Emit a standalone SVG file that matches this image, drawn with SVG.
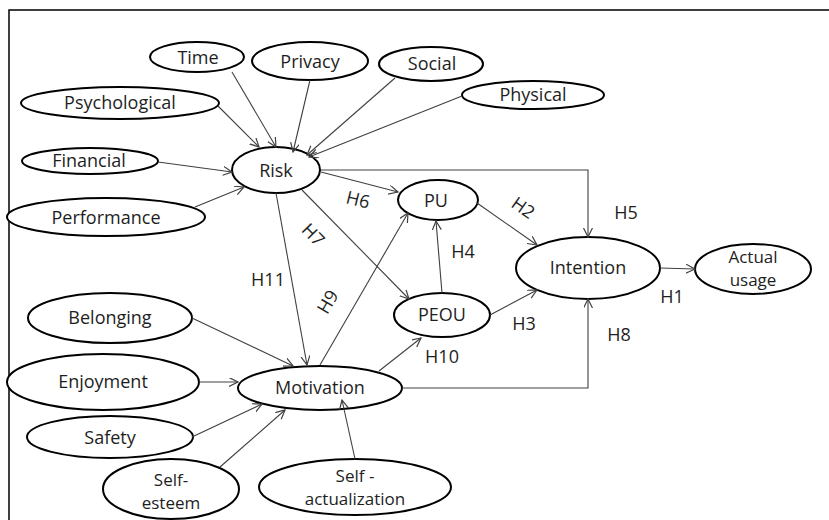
<svg xmlns="http://www.w3.org/2000/svg" width="829" height="520" viewBox="0 0 829 520">
  <style>
    .node ellipse { fill: #ffffff; stroke: #000000; stroke-width: 2; }
    .node text, .lbl { font-family: "Open Sans", "Noto Sans", sans-serif; font-size: 18px; fill: #1e1e1e; text-anchor: middle; }
    .node text.two { font-size: 17px; }
    .edge { fill: none; stroke: #404040; stroke-width: 1.1; marker-end: url(#arrow); }
    .frame { fill: none; stroke: #000000; stroke-width: 1.5; }
  </style>
  <defs>
    <marker id="arrow" markerUnits="userSpaceOnUse" markerWidth="12" markerHeight="12" refX="9" refY="4.5" orient="auto">
      <path d="M0,0 L9,4.5 L0,9" fill="none" stroke="#404040" stroke-width="1.2"/>
    </marker>
  </defs>
  <rect width="829" height="520" fill="#ffffff"/>

  <!-- page frame: top and left rules only -->
  <path class="frame" d="M9,520 V10 H829"/>

  <!-- risk dimensions -->
  <g id="time" class="node"><ellipse cx="197" cy="57" rx="47" ry="15"/><text x="198" y="64">Time</text></g>
  <g id="privacy" class="node"><ellipse cx="310" cy="61" rx="58" ry="19"/><text x="310" y="68">Privacy</text></g>
  <g id="social" class="node"><ellipse cx="431" cy="64" rx="52" ry="17"/><text x="432" y="70">Social</text></g>
  <g id="physical" class="node"><ellipse cx="533" cy="95" rx="71" ry="14"/><text x="533" y="101">Physical</text></g>
  <g id="psychological" class="node"><ellipse cx="120" cy="103" rx="99" ry="16"/><text x="120" y="109">Psychological</text></g>
  <g id="financial" class="node"><ellipse cx="90" cy="161" rx="68" ry="13"/><text x="89" y="167">Financial</text></g>
  <g id="performance" class="node"><ellipse cx="106" cy="217" rx="99" ry="19"/><text x="106" y="224">Performance</text></g>

  <!-- core constructs -->
  <g id="risk" class="node"><ellipse cx="276" cy="170" rx="44" ry="23"/><text x="276" y="177">Risk</text></g>
  <g id="pu" class="node"><ellipse cx="438" cy="200" rx="40" ry="20"/><text x="436" y="207">PU</text></g>
  <g id="peou" class="node"><ellipse cx="442" cy="315" rx="48" ry="22"/><text x="442" y="321">PEOU</text></g>
  <g id="intention" class="node"><ellipse cx="588" cy="268" rx="72" ry="31"/><text x="588" y="274">Intention</text></g>
  <g id="actual-usage" class="node"><ellipse cx="753" cy="269" rx="58" ry="25"/><text class="two" x="753" y="263">Actual<tspan x="753" dy="23">usage</tspan></text></g>
  <g id="motivation" class="node"><ellipse cx="320" cy="388" rx="82" ry="22"/><text x="320" y="394">Motivation</text></g>

  <!-- motivation drivers -->
  <g id="belonging" class="node"><ellipse cx="110" cy="318" rx="82" ry="25"/><text x="110" y="324">Belonging</text></g>
  <g id="enjoyment" class="node"><ellipse cx="103" cy="382" rx="96" ry="28"/><text x="103" y="388">Enjoyment</text></g>
  <g id="safety" class="node"><ellipse cx="110" cy="437" rx="83" ry="21"/><text x="110" y="444">Safety</text></g>
  <g id="self-esteem" class="node"><ellipse cx="171" cy="489" rx="68" ry="30"/><text class="two" x="171" y="486">Self-<tspan x="171" dy="23">esteem</tspan></text></g>
  <g id="self-actualization" class="node"><ellipse cx="355" cy="487" rx="96" ry="28"/><text class="two" x="355" y="482">Self -<tspan x="355" dy="23">actualization</tspan></text></g>

  <!-- connectors, drawn over the ellipses -->
  <g id="connectors">
    <line class="edge" x1="232" y1="72" x2="276" y2="147"/>
    <line class="edge" x1="310" y1="80" x2="293" y2="152"/>
    <line class="edge" x1="395" y1="78" x2="307" y2="155"/>
    <line class="edge" x1="462" y1="96" x2="309" y2="157"/>
    <line class="edge" x1="218" y1="106" x2="259" y2="147"/>
    <line class="edge" x1="158" y1="162" x2="232" y2="172"/>
    <line class="edge" x1="195" y1="207" x2="244" y2="187"/>
    <line class="edge" x1="321" y1="172" x2="398" y2="192"/>
    <polyline class="edge" points="321,170 588,170 588,237"/>
    <line class="edge" x1="276" y1="193" x2="307" y2="365"/>
    <line class="edge" x1="302" y1="190" x2="409" y2="299"/>
    <line class="edge" x1="320" y1="365" x2="408" y2="213"/>
    <line class="edge" x1="379" y1="371" x2="421" y2="338"/>
    <line class="edge" x1="442" y1="293" x2="436" y2="221"/>
    <line class="edge" x1="477" y1="203" x2="537" y2="245"/>
    <line class="edge" x1="490" y1="315" x2="537" y2="290"/>
    <polyline class="edge" points="402,388 588,388 588,299"/>
    <line class="edge" x1="660" y1="268" x2="695" y2="269"/>
    <line class="edge" x1="192" y1="318" x2="293" y2="366"/>
    <line class="edge" x1="199" y1="382" x2="238" y2="382"/>
    <line class="edge" x1="192" y1="437" x2="262" y2="404"/>
    <line class="edge" x1="220" y1="467" x2="285" y2="410"/>
    <line class="edge" x1="355" y1="459" x2="342" y2="400"/>
  </g>

  <!-- hypothesis labels -->
  <g id="labels">
    <text class="lbl" x="626" y="219">H5</text>
    <text class="lbl" x="619" y="341">H8</text>
    <text class="lbl" x="672" y="303">H1</text>
    <text class="lbl" x="524" y="330">H3</text>
    <text class="lbl" x="463" y="258">H4</text>
    <text class="lbl" x="442" y="363">H10</text>
    <text class="lbl" x="268" y="286">H11</text>
    <text class="lbl" transform="translate(523,208) rotate(35)" y="6">H2</text>
    <text class="lbl" transform="translate(358,200) rotate(14)" y="6">H6</text>
    <text class="lbl" transform="translate(313,235) rotate(46)" y="6">H7</text>
    <text class="lbl" transform="translate(328,302) rotate(-60)" y="6">H9</text>
  </g>
</svg>
